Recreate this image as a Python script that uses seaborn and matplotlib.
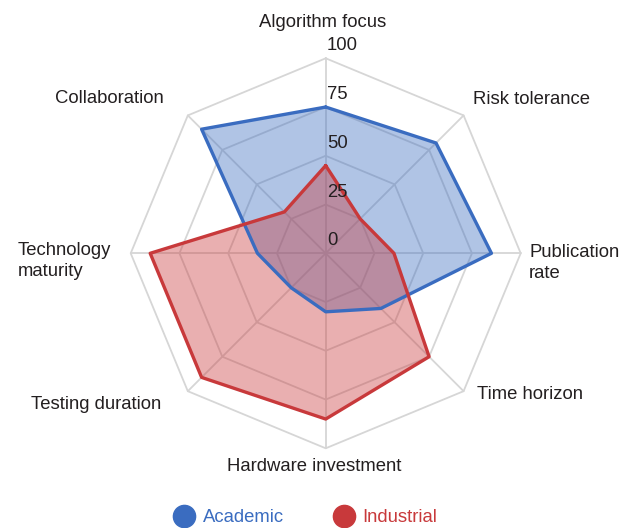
import numpy as np
import pandas as pd
import matplotlib
matplotlib.use("Agg")
import matplotlib.pyplot as plt
from matplotlib.lines import Line2D
import seaborn as sns

categories = ["Algorithm focus", "Risk tolerance", "Publication\nrate", "Time horizon",
              "Hardware investment", "Testing duration", "Technology\nmaturity", "Collaboration"]
academic = [75, 80, 85, 40, 30, 25, 35, 90]
industrial = [45, 25, 35, 75, 85, 90, 90, 30]
ring_ticks = [0, 25, 50, 75, 100]
series_names = ["Academic", "Industrial"]

blue = "#3a6cc0"
red = "#c8393b"
text_col = "#231f20"
grid_col = "#d6d6d6"
fs = 13.3

sns.set_theme(style="white")
plt.rcParams["font.family"] = ["Liberation Sans", "DejaVu Sans"]

n = len(categories)
angles = np.arange(n) * 2 * np.pi / n


def to_xy(vals):
    v = np.asarray(vals, dtype=float)
    return v * np.sin(angles), v * np.cos(angles)


fig = plt.figure(figsize=(6.32, 5.28), dpi=100)
ax = fig.add_axes([0, 0, 1, 1])
# pixel scale: 100 units = 195 px, centre at (325.7, 253.3)
scale = 1.95
cx, cy = 325.7, 253.3
ax.set_xlim(-cx / scale, (632 - cx) / scale)
ax.set_ylim(-(528 - cy) / scale, cy / scale)
ax.axis("off")

# octagon grid
for t in ring_ticks[1:]:
    gx, gy = to_xy([t] * n)
    ax.plot(np.append(gx, gx[0]), np.append(gy, gy[0]), color=grid_col, lw=1.3, zorder=1)
ox, oy = to_xy([100] * n)
for x, y in zip(ox, oy):
    ax.plot([0, x], [0, y], color=grid_col, lw=1.3, zorder=1)

# data polygons
rows = []
for name, vals in zip(series_names, [academic, industrial]):
    px, py = to_xy(vals)
    px = np.append(px, px[0])
    py = np.append(py, py[0])
    for i, (a, b) in enumerate(zip(px, py)):
        rows.append({"series": name, "order": i, "x": a, "y": b})
df = pd.DataFrame(rows)

palette = {"Academic": blue, "Industrial": red}
for name in series_names:
    d = df[df["series"] == name]
    ax.fill(d["x"], d["y"], color=palette[name], alpha=0.4, lw=0, zorder=2)
sns.lineplot(data=df, x="x", y="y", hue="series", units="series", estimator=None,
             sort=False, palette=palette, lw=2.4, legend=False, ax=ax, zorder=3)

# radial tick labels
for t in ring_ticks:
    ax.text(0.6, t + 2, str(t), ha="left", va="bottom", fontsize=fs, color=text_col, zorder=4)

# category labels: (x, y, ha)
label_pos = [
    (-1.4, 118.6, "center"),
    (75.5, 79.0, "left"),
    (104.3, -5.0, "left"),
    (77.6, -72.4, "left"),
    (-6.0, -109.4, "center"),
    (-84.5, -77.6, "right"),
    (-110.0, -4.0, "right"),
    (-82.9, 79.2, "right"),
]
for lab, (x, y, ha) in zip(categories, label_pos):
    ax.text(x, y, lab, ha=ha, va="center", multialignment="left", fontsize=fs,
            color=text_col, linespacing=1.25)

handles = [Line2D([], [], marker="o", ls="none", color=palette[s], markersize=16) for s in series_names]
fig.legend(handles, series_names, loc="center", bbox_to_anchor=(0.484, 0.019), ncol=2,
           frameon=False, fontsize=fs, labelcolor=[blue, red], handlelength=1.0,
           handletextpad=0.48, columnspacing=2.75)

fig.savefig("out.png", dpi=100)
